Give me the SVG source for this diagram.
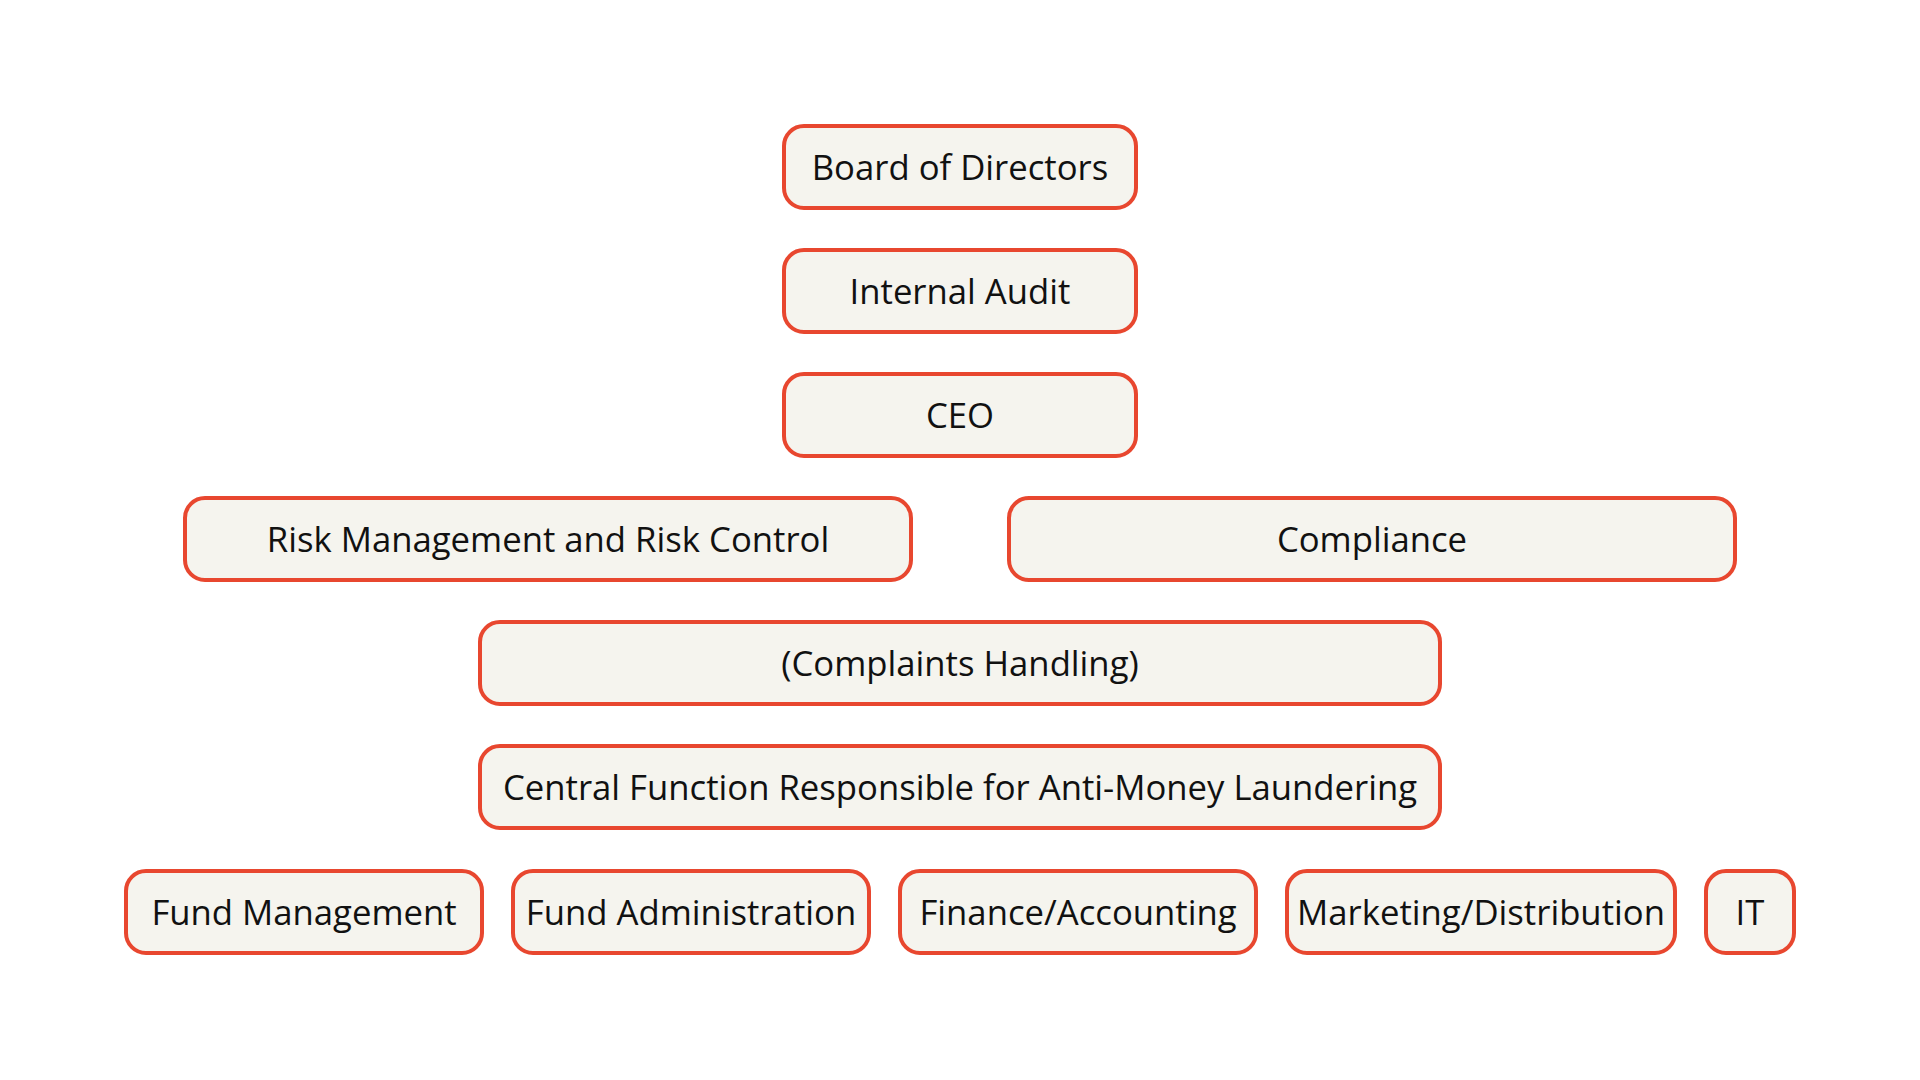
<svg xmlns="http://www.w3.org/2000/svg" width="1920" height="1080" viewBox="0 0 1920 1080">
<style>
.box{fill:#F5F4EE;stroke:#E8472F;stroke-width:4}
.t{font-family:"Open Sans","Noto Sans",sans-serif;font-size:34.7px;fill:#111111;text-anchor:middle}
</style>
<rect width="1920" height="1080" fill="#FFFFFF"/>
<g id="connectors"></g>
<g id="board"><rect class="box" x="784" y="126" width="352" height="82" rx="20"/><text class="t" x="960" y="180">Board of Directors</text></g>
<g id="internal-audit"><rect class="box" x="784" y="250" width="352" height="82" rx="20"/><text class="t" x="960" y="304">Internal Audit</text></g>
<g id="ceo"><rect class="box" x="784" y="374" width="352" height="82" rx="20"/><text class="t" x="960" y="428">CEO</text></g>
<g id="risk"><rect class="box" x="185" y="498" width="726" height="82" rx="20"/><text class="t" x="548" y="552">Risk Management and Risk Control</text></g>
<g id="compliance"><rect class="box" x="1009" y="498" width="726" height="82" rx="20"/><text class="t" x="1372" y="552">Compliance</text></g>
<g id="complaints"><rect class="box" x="480" y="622" width="960" height="82" rx="20"/><text class="t" x="960" y="676">(Complaints Handling)</text></g>
<g id="aml"><rect class="box" x="480" y="746" width="960" height="82" rx="20"/><text class="t" x="960" y="800">Central Function Responsible for Anti-Money Laundering</text></g>
<g id="fund-management"><rect class="box" x="126" y="871" width="356" height="82" rx="20"/><text class="t" x="304" y="925">Fund Management</text></g>
<g id="fund-administration"><rect class="box" x="513" y="871" width="356" height="82" rx="20"/><text class="t" x="691" y="925">Fund Administration</text></g>
<g id="finance"><rect class="box" x="900" y="871" width="356" height="82" rx="20"/><text class="t" x="1078" y="925">Finance/Accounting</text></g>
<g id="marketing"><rect class="box" x="1287" y="871" width="388" height="82" rx="20"/><text class="t" x="1481" y="925">Marketing/Distribution</text></g>
<g id="it"><rect class="box" x="1706" y="871" width="88" height="82" rx="20"/><text class="t" x="1750" y="925">IT</text></g>
</svg>
